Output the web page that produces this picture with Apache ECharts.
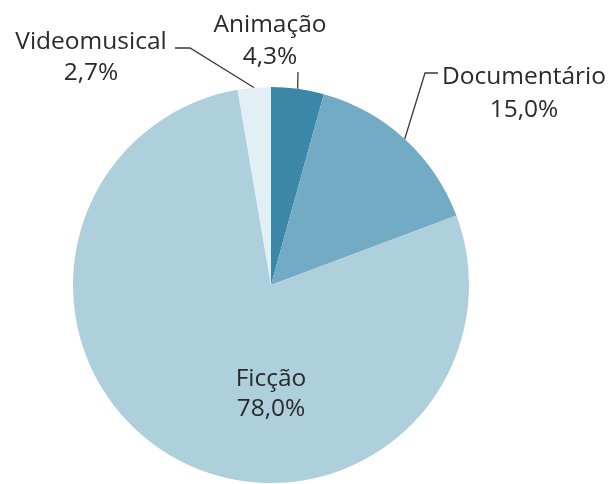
<!DOCTYPE html>
<html>
<head>
<meta charset="utf-8">
<script src="https://cdn.jsdelivr.net/npm/echarts@6/dist/echarts.min.js"></script>
<style>
    html, body { margin: 0; padding: 0; background: #fff; }
    #chart { width: 616px; height: 484px; }
</style>
</head>
<body>
<div id="chart"></div>
<script>
// Data
const categories = ['Animação', 'Documentário', 'Ficção', 'Videomusical']
const shares = [4.3, 15.0, 78.0, 2.7]
const colors = ['#3a87a7', '#73aac4', '#aecfdc', '#e2eff4']

// label spots (center of the two-line block) + elbow of the leader line
const labelSpots = [
    { x: 270, y: 41, elbow: null, end: [298, 72], lh: 32 },
    { x: 524, y: 94, elbow: [425, 73], end: [438, 73], lh: 33 },
    { x: 271, y: 394, elbow: null, end: null, lh: 30 },
    { x: 91, y: 58, elbow: [190, 48], end: [175, 48], lh: 31 },
]

function fmtPct(v) {
    return v.toFixed(1).replace('.', ',') + '%'
}

const chartDom = document.getElementById('chart')
let myChart = echarts.init(chartDom)
let option

option = {
    animation: false,
    series: [
        {
            type: 'pie',
            center: [271, 285],
            radius: 198,
            startAngle: 90,
            clockwise: true,
            avoidLabelOverlap: false,
            data: categories.map((name, i) => ({
                name: name,
                value: shares[i],
                itemStyle: { color: colors[i] },
                label: {
                    position: i === 2 ? 'inside' : 'outside',
                    lineHeight: labelSpots[i].lh,
                },
                labelLine: { show: i !== 2 },
            })),
            label: {
                formatter: (p) => `${p.name}\n${fmtPct(p.value)}`,
                fontFamily: 'Open Sans',
                fontSize: 24.5,
                color: '#2a2a2a',
                align: 'center',
            },
            labelLine: {
                lineStyle: { color: '#3a3a3a', width: 1.3 },
                length: 15,
                length2: 10,
            },
            labelLayout: function (params) {
                const spot = labelSpots[params.dataIndex]
                let res = {
                    x: spot.x,
                    y: spot.y,
                    align: 'center',
                    verticalAlign: 'middle',
                }
                if (spot.end && params.labelLinePoints) {
                    const anchor = params.labelLinePoints[0]
                    const pts = [anchor]
                    if (spot.elbow) pts.push(spot.elbow)
                    pts.push(spot.end)
                    res.labelLinePoints = pts
                }
                return res
            },
        },
    ],
}

myChart.setOption(option)
</script>
</body>
</html>
